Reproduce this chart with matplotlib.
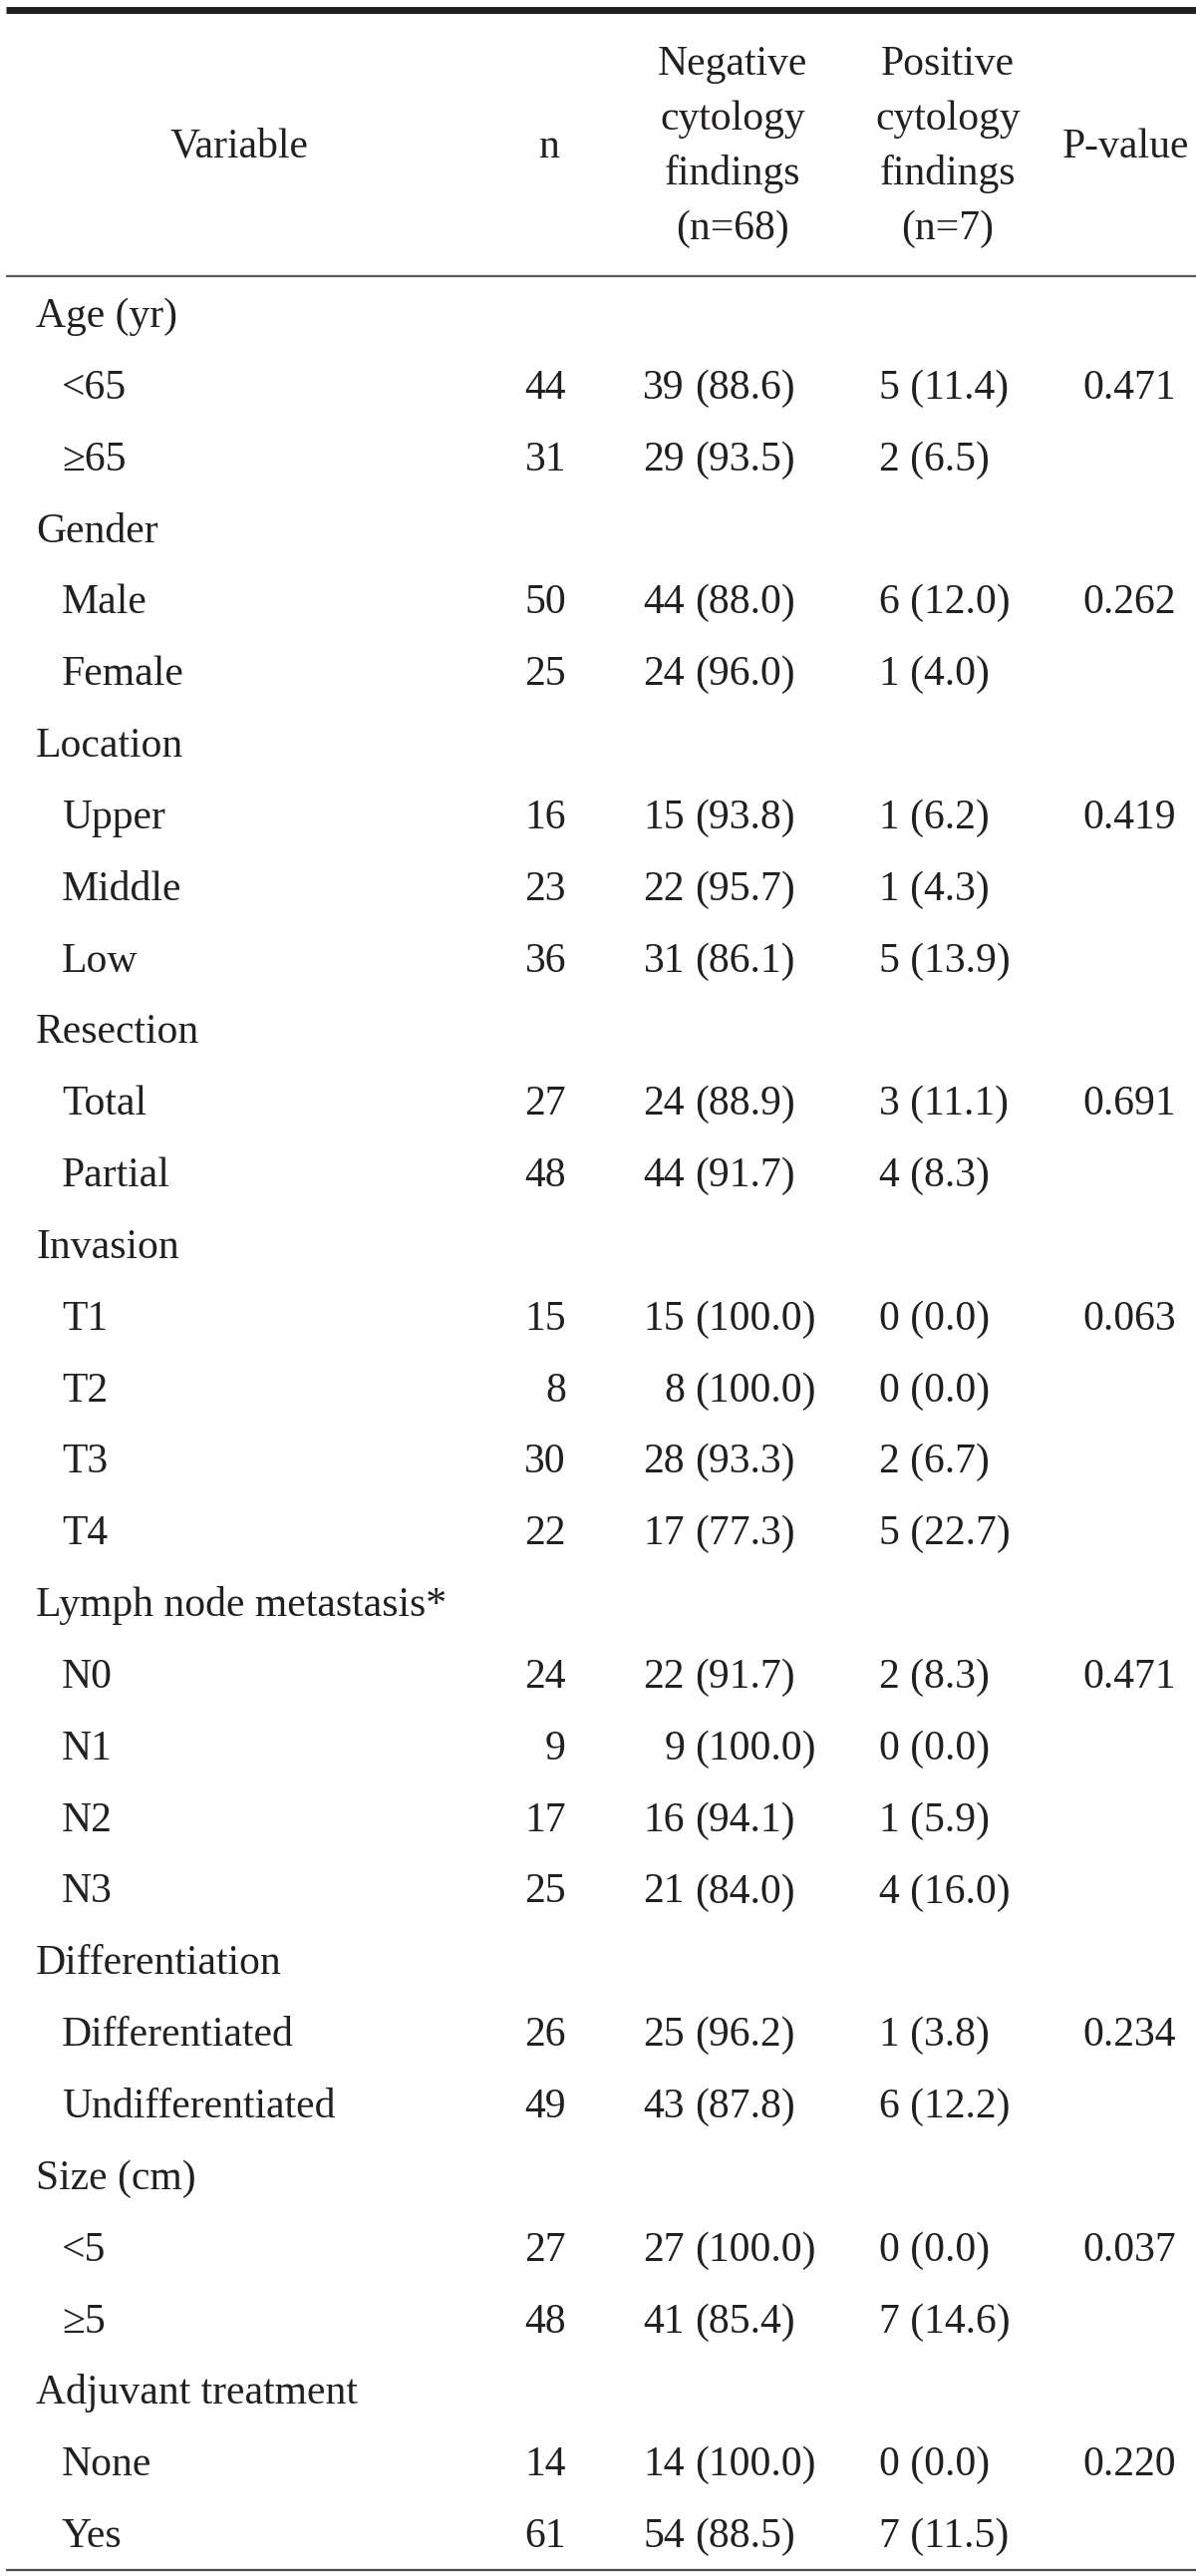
import matplotlib
matplotlib.use("Agg")
import matplotlib.pyplot as plt

# ---- data ----
headers = ["Variable", "n", "Negative\ncytology\nfindings\n(n=68)", "Positive\ncytology\nfindings\n(n=7)", "P-value"]

labels = ["Age (yr)", "<65", "≥65",
          "Gender", "Male", "Female",
          "Location", "Upper", "Middle", "Low",
          "Resection", "Total", "Partial",
          "Invasion", "T1", "T2", "T3", "T4",
          "Lymph node metastasis*", "N0", "N1", "N2", "N3",
          "Differentiation", "Differentiated", "Undifferentiated",
          "Size (cm)", "<5", "≥5",
          "Adjuvant treatment", "None", "Yes"]
is_group = [True, False, False,
            True, False, False,
            True, False, False, False,
            True, False, False,
            True, False, False, False, False,
            True, False, False, False, False,
            True, False, False,
            True, False, False,
            True, False, False]
n_vals = [None, 44, 31, None, 50, 25, None, 16, 23, 36, None, 27, 48,
          None, 15, 8, 30, 22, None, 24, 9, 17, 25, None, 26, 49,
          None, 27, 48, None, 14, 61]
neg_counts = [None, 39, 29, None, 44, 24, None, 15, 22, 31, None, 24, 44,
              None, 15, 8, 28, 17, None, 22, 9, 16, 21, None, 25, 43,
              None, 27, 41, None, 14, 54]
neg_pcts = [None, 88.6, 93.5, None, 88.0, 96.0, None, 93.8, 95.7, 86.1, None, 88.9, 91.7,
            None, 100.0, 100.0, 93.3, 77.3, None, 91.7, 100.0, 94.1, 84.0, None, 96.2, 87.8,
            None, 100.0, 85.4, None, 100.0, 88.5]
pos_counts = [None, 5, 2, None, 6, 1, None, 1, 1, 5, None, 3, 4,
              None, 0, 0, 2, 5, None, 2, 0, 1, 4, None, 1, 6,
              None, 0, 7, None, 0, 7]
pos_pcts = [None, 11.4, 6.5, None, 12.0, 4.0, None, 6.2, 4.3, 13.9, None, 11.1, 8.3,
            None, 0.0, 0.0, 6.7, 22.7, None, 8.3, 0.0, 5.9, 16.0, None, 3.8, 12.2,
            None, 0.0, 14.6, None, 0.0, 11.5]
p_values = [None, "0.471", None, None, "0.262", None, None, "0.419", None, None, None, "0.691", None,
            None, "0.063", None, None, None, None, "0.471", None, None, None, None, "0.234", None,
            None, "0.037", None, None, "0.220", None]

# ---- layout ----
W, H = 1200, 2584
fig = plt.figure(figsize=(W / 100, H / 100), dpi=100)
ax = fig.add_axes([0, 0, 1, 1])
ax.set_xlim(0, W)
ax.set_ylim(H, 0)
ax.axis("off")

FONT = ["Liberation Serif", "DejaVu Serif"]
FS = 30
TC = "#231f20"

def txt(x, y, s, ha="left", va="baseline"):
    ax.text(x, y, s, ha=ha, va=va, fontsize=FS, family=FONT, color=TC)

# rules
ax.plot([6, W], [9.5, 9.5], color="#231f20", lw=5.0, solid_capstyle="butt")
ax.plot([6, W], [277, 277], color="#5a5a5a", lw=1.6, solid_capstyle="butt")
ax.plot([6, W], [2578, 2578], color="#4a4a4a", lw=1.6, solid_capstyle="butt")

# header
hdr_x = [240, 551, 735, 951, 1130]
line_base = [75, 130, 185, 240]
for hx, h in zip(hdr_x, headers):
    parts = h.split("\n")
    if len(parts) == 1:
        txt(hx, 158, parts[0], ha="center")
    else:
        for yb, p in zip(line_base, parts):
            txt(hx, yb, p, ha="center")

# body
y0, dy = 328, 71.84
x_group, x_sub = 36, 62
x_n = 568
x_negc = 687
x_negp = 697
x_pos = 882
x_p = 1086
for i, lab in enumerate(labels):
    yb = y0 + i * dy
    txt(x_group if is_group[i] else x_sub, yb, lab)
    if n_vals[i] is not None:
        txt(x_n, yb, str(n_vals[i]), ha="right")
        txt(x_negc, yb, str(neg_counts[i]), ha="right")
        txt(x_negp, yb, f"({neg_pcts[i]:.1f})")
        txt(x_pos, yb, f"{pos_counts[i]} ({pos_pcts[i]:.1f})")
    if p_values[i] is not None:
        txt(x_p, yb, p_values[i])

fig.savefig("out.png", dpi=100, facecolor="white")
